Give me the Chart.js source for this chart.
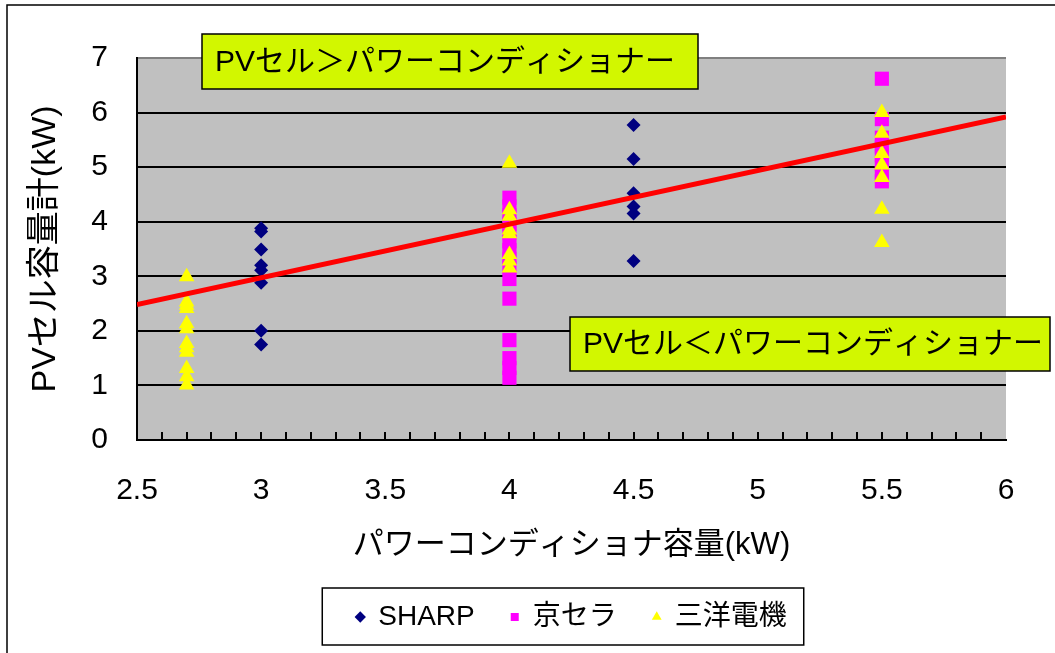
<!DOCTYPE html>
<html>
<head>
<meta charset="utf-8">
<script src="https://cdn.jsdelivr.net/npm/chart.js@4/dist/chart.umd.min.js"></script>
<style>
  html, body { margin: 0; padding: 0; background: #fff; }
  #wrap { width: 1055px; height: 653px; }
  canvas { display: block; }
</style>
</head>
<body>
<div id="wrap"><canvas id="chart" width="1055" height="653"></canvas></div>
<script>
// パワーコンディショナ容量 (kW) と PVセル容量計 (kW)
const sharpPcs = [3, 3, 3, 3, 3, 3, 3, 3, 4.5, 4.5, 4.5, 4.5, 4.5, 4.5];
const sharpPv  = [3.88, 3.82, 3.49, 3.2, 3.11, 2.88, 2.0, 1.75, 5.77, 5.15, 4.52, 4.28, 4.15, 3.28];

const kyoceraPcs = [4, 4, 4, 4, 4, 4, 4, 4, 4, 4, 4, 4, 4, 4, 4,
                    5.5, 5.5, 5.5, 5.5, 5.5, 5.5, 5.5, 5.5];
const kyoceraPv  = [4.44, 4.28, 4.12, 3.96, 3.8, 3.64, 3.48, 3.32, 3.16, 2.95, 2.59, 1.83, 1.5, 1.32, 1.14,
                    6.62, 5.88, 5.54, 5.38, 5.22, 5.06, 4.9, 4.74];

const sanyoPcs = [2.7, 2.7, 2.7, 2.7, 2.7, 2.7, 2.7, 2.7, 2.7, 2.7, 2.7, 2.7,
                  4, 4, 4, 4, 4, 4, 4, 4,
                  5.5, 5.5, 5.5, 5.5, 5.5, 5.5, 5.5];
const sanyoPv  = [2.99, 2.53, 2.47, 2.41, 2.13, 2.04, 1.77, 1.69, 1.61, 1.31, 1.16, 1.01,
                  5.07, 4.22, 4.1, 3.85, 3.78, 3.4, 3.28, 3.15,
                  6.0, 5.62, 5.25, 5.04, 4.81, 4.23, 3.62];

// 境界線 (PVセル = パワーコンディショナ の目安)
const trendPcs = [2.5, 6];
const trendPv  = [2.48, 5.92];

const seriesNames = ['SHARP', '京セラ', '三洋電機'];
const xTickLabels = ['2.5', '3', '3.5', '4', '4.5', '5', '5.5', '6'];
const yTickLabels = ['0', '1', '2', '3', '4', '5', '6', '7'];
const xAxisTitle = 'パワーコンディショナ容量(kW)';
const yAxisTitle = 'PVセル容量計(kW)';
const noteOver  = 'PVセル＞パワーコンディショナー';
const noteUnder = 'PVセル＜パワーコンディショナー';

const xMin = 2.5, xMax = 6, xStep = 0.5, xMinorStep = 0.1;
const yMin = 0, yMax = 7, yStep = 1;

const FAMILY = "'Liberation Sans', 'Noto Sans CJK JP', sans-serif";
Chart.defaults.font.family = FAMILY;
Chart.defaults.color = '#000';

const pairs = (xs, ys) => xs.map((x, i) => ({ x, y: ys[i] }));

const framePlugin = {
  id: 'frame',
  beforeDraw(chart) {
    const { ctx, chartArea: a } = chart;
    ctx.save();
    ctx.fillStyle = '#fff';
    ctx.fillRect(0, 0, chart.width, chart.height);
    ctx.fillStyle = '#C0C0C0';
    ctx.fillRect(a.left, a.top, a.right - a.left, a.bottom - a.top);
    ctx.strokeStyle = '#000';
    ctx.lineWidth = 1.5;
    ctx.beginPath();
    ctx.moveTo(7, chart.height);
    ctx.lineTo(7, 5);
    ctx.lineTo(chart.width, 5);
    ctx.stroke();
    ctx.restore();
  },
  beforeDatasetsDraw(chart) {
    // minor tick marks pointing into the plot along the x axis
    const { ctx, chartArea: a, scales: { x } } = chart;
    ctx.save();
    ctx.strokeStyle = '#000';
    ctx.lineWidth = 2;
    ctx.beginPath();
    const n = Math.round((xMax - xMin) / xMinorStep);
    for (let i = 1; i < n; i++) {
      const px = Math.round(x.getPixelForValue(xMin + i * xMinorStep));
      ctx.moveTo(px, a.bottom);
      ctx.lineTo(px, a.bottom - 8);
    }
    ctx.stroke();
    ctx.restore();
  },
  afterDraw(chart) {
    const { ctx } = chart;
    ctx.save();
    // legend frame
    const hb = chart.legend.legendHitBoxes;
    if (hb && hb.length) {
      const first = hb[0], last = hb[hb.length - 1];
      const cy = first.top + first.height / 2;
      const l = first.left - 34, r = last.left + last.width + 17;
      ctx.strokeStyle = '#000';
      ctx.lineWidth = 1.5;
      ctx.strokeRect(l, cy - 29, r - l, 57);
    }
    // text boxes
    const boxes = chart.options.plugins.frame.notes;
    ctx.font = '30px ' + FAMILY;
    ctx.textBaseline = 'middle';
    ctx.textAlign = 'left';
    boxes.forEach(b => {
      ctx.fillStyle = '#D2F700';
      ctx.fillRect(b.x, b.y, b.w, b.h);
      ctx.strokeStyle = '#000';
      ctx.lineWidth = 1.5;
      ctx.strokeRect(b.x, b.y, b.w, b.h);
      ctx.fillStyle = '#000';
      ctx.fillText(b.text, b.x + 13, b.y + b.h / 2 + 1);
    });
    ctx.restore();
  }
};

new Chart(document.getElementById('chart'), {
  type: 'scatter',
  data: {
    datasets: [
      {
        label: seriesNames[0],
        data: pairs(sharpPcs, sharpPv),
        pointStyle: 'rectRot',
        pointRadius: 7,
        backgroundColor: '#000080',
        borderColor: '#000080',
        pointBorderWidth: 0,
        order: 3
      },
      {
        label: seriesNames[1],
        data: pairs(kyoceraPcs, kyoceraPv),
        pointStyle: 'rect',
        pointRadius: 10,
        backgroundColor: '#FF00FF',
        borderColor: '#FF00FF',
        pointBorderWidth: 0,
        order: 2
      },
      {
        label: seriesNames[2],
        data: pairs(sanyoPcs, sanyoPv),
        pointStyle: 'triangle',
        pointRadius: 9,
        backgroundColor: '#FFFF00',
        borderColor: '#FFFF00',
        pointBorderWidth: 0,
        order: 1
      },
      {
        label: 'boundary',
        data: pairs(trendPcs, trendPv),
        showLine: true,
        pointRadius: 0,
        borderColor: '#FF0000',
        backgroundColor: '#FF0000',
        borderWidth: 5,
        order: 0
      }
    ]
  },
  options: {
    responsive: false,
    animation: false,
    events: [],
    layout: { padding: { top: 58, right: 49, bottom: 12, left: 0 } },
    scales: {
      x: {
        type: 'linear',
        min: xMin, max: xMax,
        ticks: {
          stepSize: xStep, padding: 33, color: '#000', font: { size: 30 },
          callback: (v, i) => xTickLabels[i]
        },
        grid: { drawOnChartArea: false, drawTicks: false },
        border: { display: true, color: '#000', width: 2 },
        title: { display: true, text: xAxisTitle, color: '#000', font: { size: 31 }, padding: { top: 0, bottom: 3 } },
        afterFit(s) { s.height = 127; }
      },
      y: {
        min: yMin, max: yMax,
        ticks: {
          stepSize: yStep, padding: 29, color: '#000', font: { size: 30 },
          callback: (v, i) => yTickLabels[i]
        },
        grid: {
          drawTicks: false,
          lineWidth: 2,
          color: c => (c.tick && c.tick.value === yMax) ? '#808080' : '#000'
        },
        border: { display: true, color: '#000', width: 2 },
        title: { display: true, text: yAxisTitle, color: '#000', font: { size: 34 }, padding: { top: 25, bottom: 0 } },
        afterFit(s) { s.width = 137; }
      }
    },
    plugins: {
      tooltip: { enabled: false },
      legend: {
        position: 'bottom',
        fullSize: false,
        maxHeight: 74,
        labels: {
          usePointStyle: true,
          boxWidth: 8,
          boxHeight: 8,
          padding: 36,
          color: '#000',
          font: { size: 28 },
          filter: item => item.datasetIndex < 3,
          sort: (a, b) => a.datasetIndex - b.datasetIndex
        }
      },
      frame: {
        notes: [
          { text: noteOver,  x: 202, y: 34,  w: 496, h: 55 },
          { text: noteUnder, x: 570, y: 317, w: 480, h: 54 }
        ]
      }
    }
  },
  plugins: [framePlugin]
});
</script>
</body>
</html>
